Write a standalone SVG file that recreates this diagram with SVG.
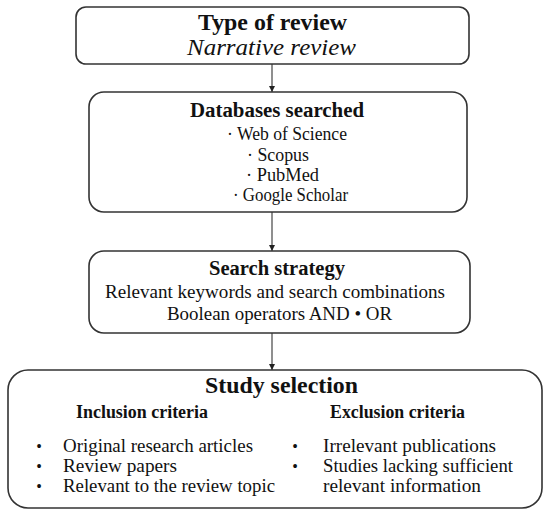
<svg xmlns="http://www.w3.org/2000/svg" width="550" height="516" viewBox="0 0 550 516">
<style>
.box{fill:#fff;stroke:#333;stroke-width:1.6}
.t{font-family:"Liberation Serif","Times New Roman",serif;fill:#111}
.b{font-weight:bold}
.i{font-style:italic}
.conn{stroke:#333;stroke-width:1.1;fill:none}
</style>
<defs>
<marker id="ah" viewBox="0 0 10 10" refX="10" refY="5" markerWidth="6" markerHeight="6" markerUnits="userSpaceOnUse" orient="auto">
<path d="M0,0 L10,5 L0,10 z" fill="#222"/>
</marker>
</defs>
<rect width="550" height="516" fill="#fff"/>
<g id="connectors">
<line class="conn" x1="272" y1="64" x2="272" y2="92" marker-end="url(#ah)"/>
<line class="conn" x1="272" y1="212" x2="272" y2="251" marker-end="url(#ah)"/>
<line class="conn" x1="272" y1="333" x2="272" y2="370" marker-end="url(#ah)"/>
</g>
<g id="type-of-review">
<rect class="box" x="76" y="7" width="393" height="57" rx="10"/>
<text class="t b" x="198" y="30" font-size="23" textLength="149" lengthAdjust="spacingAndGlyphs">Type of review</text>
<text class="t i" x="187" y="55" font-size="23" textLength="169" lengthAdjust="spacingAndGlyphs">Narrative review</text>
</g>
<g id="databases-searched">
<rect class="box" x="89" y="92" width="378" height="120" rx="15"/>
<text class="t b" x="190" y="117" font-size="20" textLength="174" lengthAdjust="spacingAndGlyphs">Databases searched</text>
<text class="t" x="227" y="140" font-size="19" textLength="120" lengthAdjust="spacingAndGlyphs">· Web of Science</text>
<text class="t" x="247" y="161" font-size="19" textLength="62" lengthAdjust="spacingAndGlyphs">· Scopus</text>
<text class="t" x="246" y="181" font-size="19" textLength="73" lengthAdjust="spacingAndGlyphs">· PubMed</text>
<text class="t" x="233" y="201" font-size="19" textLength="115" lengthAdjust="spacingAndGlyphs">· Google Scholar</text>
</g>
<g id="search-strategy">
<rect class="box" x="89" y="251" width="381" height="82" rx="15"/>
<text class="t b" x="209" y="275" font-size="20" textLength="136" lengthAdjust="spacingAndGlyphs">Search strategy</text>
<text class="t" x="105" y="298" font-size="19" textLength="340" lengthAdjust="spacingAndGlyphs">Relevant keywords and search combinations</text>
<text class="t" x="167" y="320" font-size="19" textLength="225" lengthAdjust="spacingAndGlyphs">Boolean operators AND • OR</text>
</g>
<g id="study-selection">
<rect class="box" x="8" y="370" width="534" height="138" rx="20"/>
<text class="t b" x="205" y="393" font-size="24" textLength="153" lengthAdjust="spacingAndGlyphs">Study selection</text>
<text class="t b" x="76" y="418" font-size="18" textLength="132" lengthAdjust="spacingAndGlyphs">Inclusion criteria</text>
<text class="t b" x="330" y="418" font-size="18" textLength="135" lengthAdjust="spacingAndGlyphs">Exclusion criteria</text>
<g class="t" font-size="16" text-anchor="middle">
<text x="39" y="452">•</text>
<text x="39" y="472">•</text>
<text x="39" y="492">•</text>
<text x="295" y="452">•</text>
<text x="295" y="472">•</text>
</g>
<text class="t" x="63" y="452" font-size="19" textLength="190" lengthAdjust="spacingAndGlyphs">Original research articles</text>
<text class="t" x="63" y="472" font-size="19" textLength="114" lengthAdjust="spacingAndGlyphs">Review papers</text>
<text class="t" x="63" y="492" font-size="19" textLength="212" lengthAdjust="spacingAndGlyphs">Relevant to the review topic</text>
<text class="t" x="323" y="452" font-size="19" textLength="173" lengthAdjust="spacingAndGlyphs">Irrelevant publications</text>
<text class="t" x="323" y="472" font-size="19" textLength="190" lengthAdjust="spacingAndGlyphs">Studies lacking sufficient</text>
<text class="t" x="323" y="492" font-size="19" textLength="158" lengthAdjust="spacingAndGlyphs">relevant information</text>
</g>
</svg>
